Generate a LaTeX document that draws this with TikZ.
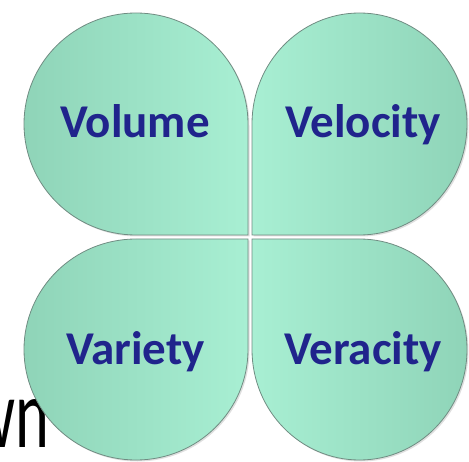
\documentclass[tikz,border=0pt]{standalone}
\usepackage{fontspec}
\setmainfont{Carlito}
\usepackage{tikz}
\usetikzlibrary{shadows}
\definecolor{mintdark}{RGB}{143,212,184}
\definecolor{mintlight}{RGB}{168,239,211}
\definecolor{petaledge}{RGB}{112,140,130}
\definecolor{vnavy}{RGB}{32,36,140}
\tikzset{petal/.style={draw=petaledge,line width=0.8pt,drop shadow={opacity=0.25,shadow xshift=1.5pt,shadow yshift=-1.5pt}},
	left petal/.style={petal,left color=mintdark,right color=mintlight},
	right petal/.style={petal,left color=mintlight,right color=mintdark},
	vword/.style={font=\fontsize{47}{50}\selectfont\bfseries,text=vnavy,anchor=base,inner sep=0pt},
}

\begin{document}
\begin{tikzpicture}[x=1pt,y=1pt]
	\useasboundingbox (0,0) rectangle (469,461);
	
	%% text behind the petals
	\node[font=\fontsize{99}{110}\selectfont,anchor=base east,inner sep=0pt,xscale=0.65] (wn) at (49,13) {wn};
	
	%% petals
	\path[left petal] (248,226) -- (136,226) arc[start angle=270,end angle=0,x radius=112,y radius=111] -- cycle;
	\path[right petal] (252,226) -- (252,337) arc[start angle=180,end angle=-90,x radius=107.5,y radius=111] -- cycle;
	\path[left petal] (248,222) -- (248,111.5) arc[start angle=0,end angle=-270,x radius=112,y radius=110.5] -- cycle;
	\path[right petal] (252,222) -- (359.5,222) arc[start angle=90,end angle=-180,x radius=107.5,y radius=110.5] -- cycle;
	
	%% labels
	\node[vword] (volume) at (135,323) {Volume};
	\node[vword] (velocity) at (363,323) {Velocity};
	\node[vword] (variety) at (135.5,96) {Variety};
	\node[vword] (veracity) at (363,96) {Veracity};
\end{tikzpicture}
\end{document}
